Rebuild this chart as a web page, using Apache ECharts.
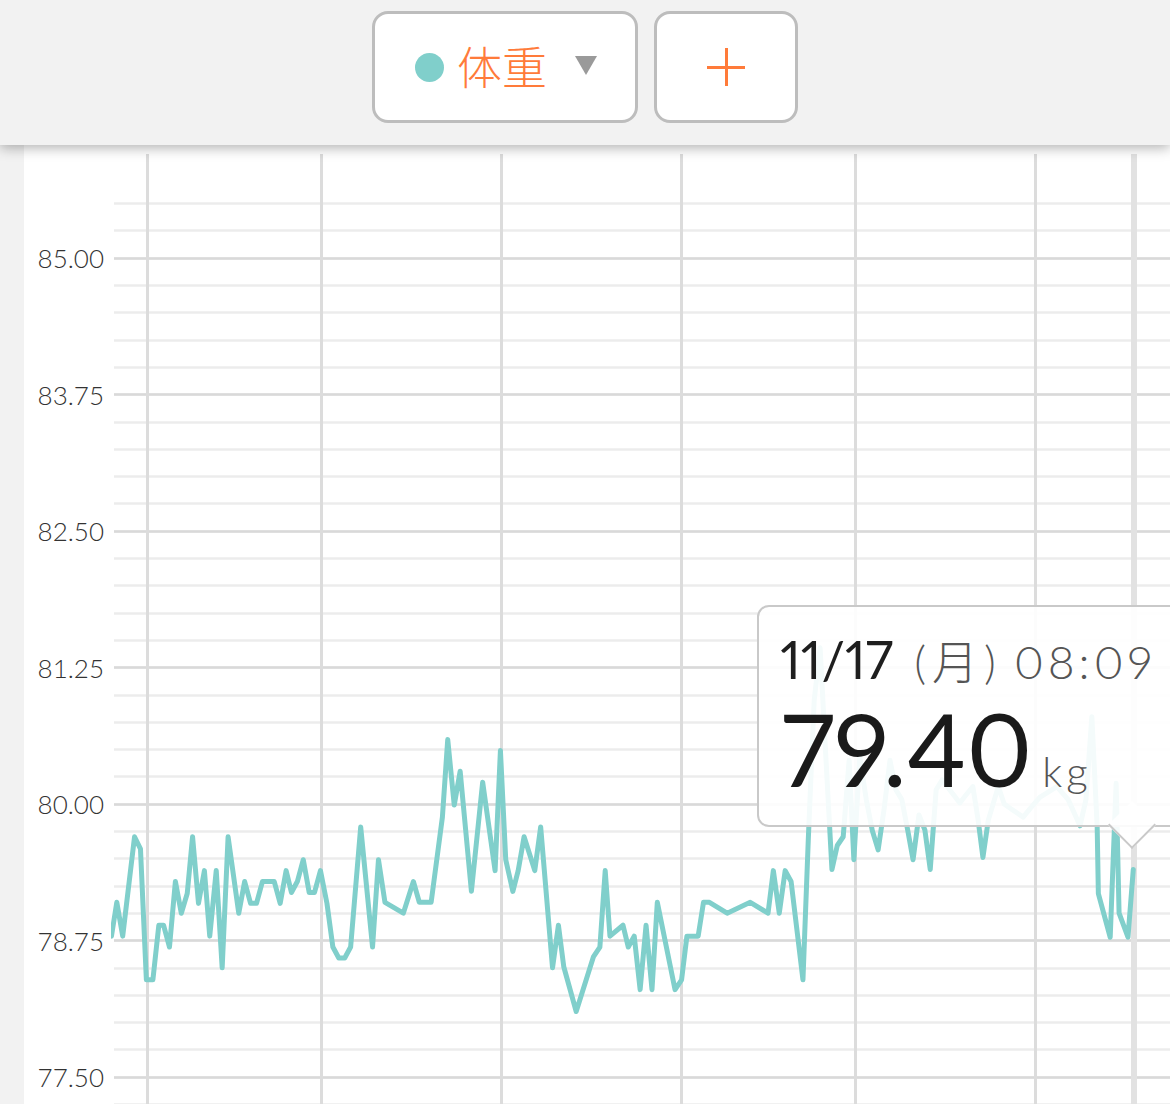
<!DOCTYPE html>
<html><head><meta charset="utf-8">
<script src="https://cdn.jsdelivr.net/npm/echarts@6/dist/echarts.min.js"></script>
<style>
html,body{margin:0;padding:0;width:1170px;height:1104px;overflow:hidden;background:#f2f2f2;}
#panel{position:absolute;left:24px;top:145px;width:1146px;height:1000px;background:#fff;z-index:0;}
#chart{position:absolute;left:0;top:0;width:1170px;height:1240px;z-index:1;}
#topbar{position:absolute;left:0;top:0;width:1170px;height:145px;background:#f2f2f2;box-shadow:0 3px 12px rgba(0,0,0,0.30);z-index:10;}
.btn{position:absolute;top:11px;height:112px;box-sizing:border-box;background:#fff;border:3px solid #bdbdbd;border-radius:16px;}
#b1{left:372px;width:266px;}
#b2{left:654px;width:144px;}
#dot{position:absolute;left:415px;top:53px;width:29px;height:29px;border-radius:50%;background:#80cfcb;}
#lbl{position:absolute;left:457px;top:36px;font-family:"Noto Sans CJK JP";font-weight:300;font-size:45px;line-height:60px;color:#ff7b3a;}
#tri{position:absolute;left:575px;top:56px;width:0;height:0;border-left:11.5px solid transparent;border-right:11.5px solid transparent;border-top:19px solid #9a9a9a;}
.ph{position:absolute;left:707px;top:65.5px;width:38px;height:3px;background:#ff7b3a;}
.pv{position:absolute;left:724.5px;top:48px;width:3px;height:38px;background:#ff7b3a;}
#tip{position:absolute;width:440px;height:222px;box-sizing:border-box;border:2.5px solid #c9c9c9;border-radius:12px;background:rgba(255,255,255,0.91);z-index:5;font-family:Lato,"Noto Sans CJK JP";font-variant-numeric:proportional-nums;}
#tip .l1{position:absolute;left:21px;top:26px;white-space:nowrap;line-height:52px;}
#tip .d{font-size:52px;color:#1e1e1e;font-weight:400;}
#tip .w{font-size:46px;color:#555;font-weight:300;margin-left:21px;letter-spacing:6px;}
#tip .t{font-size:46px;color:#555;font-weight:300;margin-left:12px;letter-spacing:4px;}
#tip .l2{position:absolute;left:22px;top:91px;white-space:nowrap;line-height:100px;}
#tip .v{font-size:100px;color:#1a1a1a;font-weight:400;letter-spacing:0px;}
#tip .u{font-size:42px;color:#555;font-weight:300;margin-left:10px;letter-spacing:4px;}
#tip .arrow{position:absolute;width:34px;height:34px;box-sizing:border-box;background:rgba(255,255,255,0.91);border-right:2.5px solid #c9c9c9;border-bottom:2.5px solid #c9c9c9;transform:rotate(45deg);}
</style>
</head><body>
<div id="panel"></div>
<div id="chart"></div>
<div id="topbar">
  <div class="btn" id="b1"></div>
  <div class="btn" id="b2"></div>
  <div id="dot"></div>
  <div id="lbl">体重</div>
  <div id="tri"></div>
  <div class="ph"></div><div class="pv"></div>
</div>
<div id="tip"><div class="l1"><span class="d"></span><span class="w"></span><span class="t"></span></div><div class="l2"><span class="v"></span><span class="u"></span></div><div class="arrow"></div></div>
<script>
// ---- data (day offsets read from the x positions, weights in kg) ----
const days = [-6.0,-5.1,-4.1,-2.1,-1.1,-0.1,1.0,2.0,2.8,3.8,4.8,5.8,6.8,7.7,8.7,9.7,10.6,11.7,12.7,13.7,15.5,16.5,17.5,18.5,19.5,20.6,21.5,22.5,23.5,24.4,25.4,26.4,27.4,28.3,29.3,30.4,31.4,32.4,33.4,34.4,36.1,38.1,39.1,40.2,43.3,45.0,46.0,48.0,49.9,50.8,51.9,52.9,54.8,56.7,58.8,59.7,60.6,61.8,62.7,63.7,65.5,66.5,68.5,69.5,70.4,72.5,75.4,76.5,77.4,78.2,80.4,81.3,82.3,83.3,84.3,85.3,86.2,89.2,90.3,91.2,93.1,94.0,95.0,98.0,101.9,104.9,105.8,106.8,107.8,108.8,110.8,111.7,112.7,113.7,114.7,115.7,116.6,117.6,118.6,119.4,120.4,121.5,122.5,123.5,124.5,125.5,126.5,127.5,128.5,129.4,130.4,131.4,132.3,133.3,134.3,136.3,137.3,138.3,139.5,140.4,141.2,142.1,143.8,144.8,146.1,148.0,149.2,150.8,153.7,155.6,157.6,158.6,159.6,160.5,160.7,162.7,163.7,164.2,165.7,166.6];
const weights = [78.79,79.10,78.79,79.70,79.59,78.39,78.39,78.89,78.89,78.69,79.29,79.00,79.18,79.70,79.09,79.39,78.79,79.39,78.50,79.70,79.00,79.29,79.09,79.09,79.29,79.29,79.29,79.09,79.39,79.19,79.29,79.49,79.19,79.19,79.39,79.09,78.69,78.59,78.59,78.69,79.79,78.69,79.49,79.10,79.00,79.29,79.10,79.10,79.88,80.59,79.99,80.30,79.20,80.20,79.39,80.49,79.49,79.20,79.39,79.70,79.39,79.79,78.50,78.89,78.51,78.10,78.60,78.69,79.39,78.79,78.89,78.69,78.79,78.30,78.89,78.30,79.10,78.30,78.39,78.79,78.79,79.10,79.10,79.00,79.10,79.00,79.39,79.00,79.39,79.29,78.39,79.67,80.95,81.43,80.40,79.40,79.62,79.70,80.40,79.49,80.43,80.04,79.76,79.58,79.95,80.40,80.13,80.04,79.76,79.49,79.90,79.76,79.40,80.13,80.22,80.08,80.01,80.08,80.16,79.85,79.51,79.85,80.16,80.00,79.95,79.88,79.96,80.06,80.16,80.04,79.80,80.04,80.80,79.79,79.18,78.78,80.19,79.00,78.78,79.40];
const gridDays = [0, 29.4, 59.8, 90.2, 119.6, 150];      // vertical grid lines
const yTicksMajor = [77.50, 78.75, 80.00, 81.25, 82.50, 83.75, 85.00];
const X_MIN = -5.57, X_MAX = 172.8;
const Y_MIN = 76.25, Y_MAX = 85.5, Y_MAJOR = 1.25, Y_MINOR = 0.25;
const tipDate = '11/17', tipWeekday = '(月)', tipTime = '08:09', tipUnit = 'kg';

const chart = echarts.init(document.getElementById('chart'), null, {renderer: 'svg'});
const pts = days.map((d, i) => [d, weights[i]]);
const lastIdx = days.length - 1;

const option = {
  animation: false,
  backgroundColor: 'transparent',
  grid: [
    {left: 114, right: 0, top: 154, bottom: 26.5, containLabel: false, outerBoundsMode: 'none'},
    {left: 114, right: 0, top: 203.4, bottom: 26.5, containLabel: false, outerBoundsMode: 'none'}
  ],
  xAxis: [
    {type: 'value', gridIndex: 0, min: X_MIN, max: X_MAX, show: false},
    {type: 'value', gridIndex: 1, min: X_MIN, max: X_MAX, show: false}
  ],
  yAxis: [
    {type: 'value', gridIndex: 0, min: 0, max: 1, show: false},
    {type: 'value', gridIndex: 1, position: 'left', min: Y_MIN, max: Y_MAX, interval: Y_MINOR,
     axisLabel: {show: false}, axisLine: {show: false}, axisTick: {show: false},
     splitLine: {show: true, lineStyle: {color: '#ececec', width: 2.5}}},
    {type: 'value', gridIndex: 1, position: 'left', offset: 0, min: Y_MIN, max: Y_MAX, interval: Y_MAJOR,
     axisLine: {show: false}, axisTick: {show: false},
     axisLabel: {
       margin: 10, fontFamily: 'Lato', fontWeight: 300, fontSize: 26, color: '#333333',
       formatter: v => yTicksMajor.some(t => Math.abs(t - v) < 1e-6) ? v.toFixed(2) : ''
     },
     splitLine: {show: true, showMaxLine: false, lineStyle: {color: '#d9d9d9', width: 2.5}}}
  ],
  series: [
    {type: 'line', xAxisIndex: 0, yAxisIndex: 0, data: [[0, 0.5]], symbol: 'none',
     lineStyle: {width: 0}, silent: true, z: 2,
     markLine: {
       silent: true, symbol: ['none', 'none'], label: {show: false}, animation: false,
       lineStyle: {color: '#dcdcdc', width: 3, type: 'solid'},
       data: gridDays.map(d => ({xAxis: d})).concat([
         {xAxis: days[lastIdx], lineStyle: {color: '#e2e2e2', width: 6, type: 'solid'}}
       ])
     }},
    {type: 'line', xAxisIndex: 1, yAxisIndex: 2, data: pts, symbol: 'none', showSymbol: false,
     clip: true, z: 5, silent: true,
     lineStyle: {color: '#80cfcb', width: 5, join: 'round', cap: 'round'}}
  ]
};
chart.setOption(option);

// tooltip-like callout anchored on the last point through the chart's own scale
const p = chart.convertToPixel({seriesIndex: 1}, pts[lastIdx]);
const tip = document.getElementById('tip');
tip.style.left = (p[0] - 376) + 'px';
tip.style.top = (p[1] - 265) + 'px';
tip.querySelector('.d').textContent = tipDate;
tip.querySelector('.w').textContent = tipWeekday;
tip.querySelector('.t').textContent = tipTime;
tip.querySelector('.v').textContent = weights[lastIdx].toFixed(2);
tip.querySelector('.u').textContent = tipUnit;
const arrow = tip.querySelector('.arrow');
arrow.style.left = (p[0] - 1 - 17 - (p[0] - 376) - 2.5) + 'px';
arrow.style.top = (p[1] - 44 - 17 - (p[1] - 265) - 2.5) + 'px';
</script>
</body></html>
